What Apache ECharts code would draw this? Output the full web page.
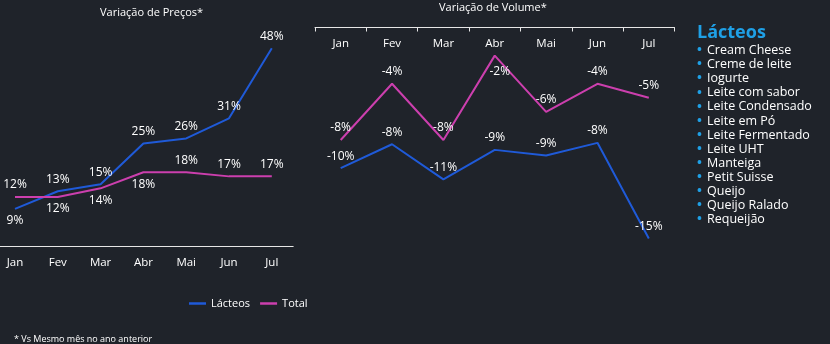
<!DOCTYPE html>
<html><head><meta charset="utf-8">
<script src="https://cdn.jsdelivr.net/npm/echarts@6/dist/echarts.min.js"></script>
<style>html,body{margin:0;padding:0;background:#1f232a;}#c{width:830px;height:344px;}</style>
</head><body><div id="c"></div>
<script>
const months = ['Jan','Fev','Mar','Abr','Mai','Jun','Jul'];
const precoLacteos = [9, 13.3, 15, 24.9, 26.1, 31, 48];
const precoTotal = [11.9, 11.9, 14, 17.9, 17.9, 16.9, 16.9];
const volumeLacteos = [-10, -8.3, -10.8, -8.7, -9.1, -8.2, -15];
const volumeTotal = [-8, -4, -8, -2, -6, -4, -5];
const produtos = ['Cream Cheese','Creme de leite','Iogurte','Leite com sabor','Leite Condensado','Leite em Pó','Leite Fermentado','Leite UHT','Manteiga','Petit Suisse','Queijo','Queijo Ralado','Requeijão'];

// label placement (style, not data)
const posPrecoL = ['bottom','top','top','top','top','top','top'];
const posPrecoT = ['top','bottom','bottom','bottom','top','top','top'];
const posVolL = ['top','top','top','top','top','top','top'];
const posVolT = ['top','top','top','bottom','top','top','top'];
const offVolT = [[0,0],[0,0],[0,0],[5,4],[0,0],[0,0],[0,0]];

const FONT = 'Open Sans';
const BLUE = '#1f5ad8', PINK = '#cc3fae';
function withPos(vals, pos, off){
  return vals.map((v,i)=>({value:v, label:{position:pos[i], offset: off ? off[i] : [0,0]}}));
}
const lbl = {show:true, color:'#ffffff', fontSize:12, fontFamily:FONT, distance:6,
  formatter: p => Math.round(p.value) + '%'};

const chart = echarts.init(document.getElementById('c'));
const graphics = [
  {type:'text', left:100, top:7, style:{text:'Variação de Preços*', fill:'#ffffff', font:'11px "'+FONT+'"'}},
  {type:'text', left:439, top:2, style:{text:'Variação de Volume*', fill:'#ffffff', font:'11px "'+FONT+'"'}},
  {type:'text', left:697, top:24, style:{text:'Lácteos', fill:'#1fa0e6', font:'bold 18px "'+FONT+'"'}},
  {type:'text', left:14, top:335, style:{text:'* Vs Mesmo mês no ano anterior', fill:'#ffffff', font:'9px "'+FONT+'"'}}
];
produtos.forEach((p,i)=>{
  graphics.push({type:'text', left:697, top:44 + i*14.1, style:{text:'•', fill:'#1fa0e6', font:'bold 13px "'+FONT+'"'}});
  graphics.push({type:'text', left:707, top:44 + i*14.1, style:{text:p, fill:'#ffffff', font:'12.5px "'+FONT+'"'}});
});

chart.setOption({
  backgroundColor:'#1f232a',
  animation:false,
  textStyle:{fontFamily:FONT},
  graphic: graphics,
  legend:{data:['Lácteos','Total'], left:184, top:293, itemWidth:17, itemHeight:2.5, icon:'rect', itemGap:10,
    textStyle:{color:'#ffffff', fontSize:11, fontFamily:FONT}},
  grid:[
    {left:-6.4, top:40, width:299.6, height:206, outerBoundsMode:'none', containLabel:false},
    {left:315, top:27.5, width:359.5, height:211, outerBoundsMode:'none', containLabel:false}
  ],
  xAxis:[
    {type:'category', gridIndex:0, data:months, boundaryGap:true,
      axisLine:{lineStyle:{color:'#e6e6e6', width:1}}, axisTick:{show:false},
      axisLabel:{color:'#ffffff', fontSize:11.5, margin:11, fontFamily:FONT}},
    {type:'category', gridIndex:1, data:months, position:'top', boundaryGap:true,
      axisLine:{lineStyle:{color:'#e6e6e6', width:1}},
      axisTick:{show:true, inside:true, length:4, lineStyle:{color:'#e6e6e6'}},
      axisLabel:{inside:true, color:'#ffffff', fontSize:11.5, margin:10, fontFamily:FONT}}
  ],
  yAxis:[
    {type:'value', gridIndex:0, min:0, max:50, show:false, splitLine:{show:false}},
    {type:'value', gridIndex:1, min:-15, max:0, show:false, splitLine:{show:false}}
  ],
  series:[
    {name:'Lácteos', type:'line', xAxisIndex:0, yAxisIndex:0, data:withPos(precoLacteos,posPrecoL),
      symbol:'circle', symbolSize:0.01, showSymbol:true, lineStyle:{color:BLUE, width:2}, itemStyle:{color:BLUE}, label:lbl},
    {name:'Total', type:'line', xAxisIndex:0, yAxisIndex:0, data:withPos(precoTotal,posPrecoT),
      symbol:'circle', symbolSize:0.01, showSymbol:true, lineStyle:{color:PINK, width:2}, itemStyle:{color:PINK}, label:lbl},
    {name:'Lácteos', type:'line', xAxisIndex:1, yAxisIndex:1, data:withPos(volumeLacteos,posVolL),
      symbol:'circle', symbolSize:0.01, showSymbol:true, lineStyle:{color:BLUE, width:2}, itemStyle:{color:BLUE}, label:lbl},
    {name:'Total', type:'line', xAxisIndex:1, yAxisIndex:1, data:withPos(volumeTotal,posVolT,offVolT),
      symbol:'circle', symbolSize:0.01, showSymbol:true, lineStyle:{color:PINK, width:2}, itemStyle:{color:PINK}, label:lbl}
  ]
});
</script></body></html>
